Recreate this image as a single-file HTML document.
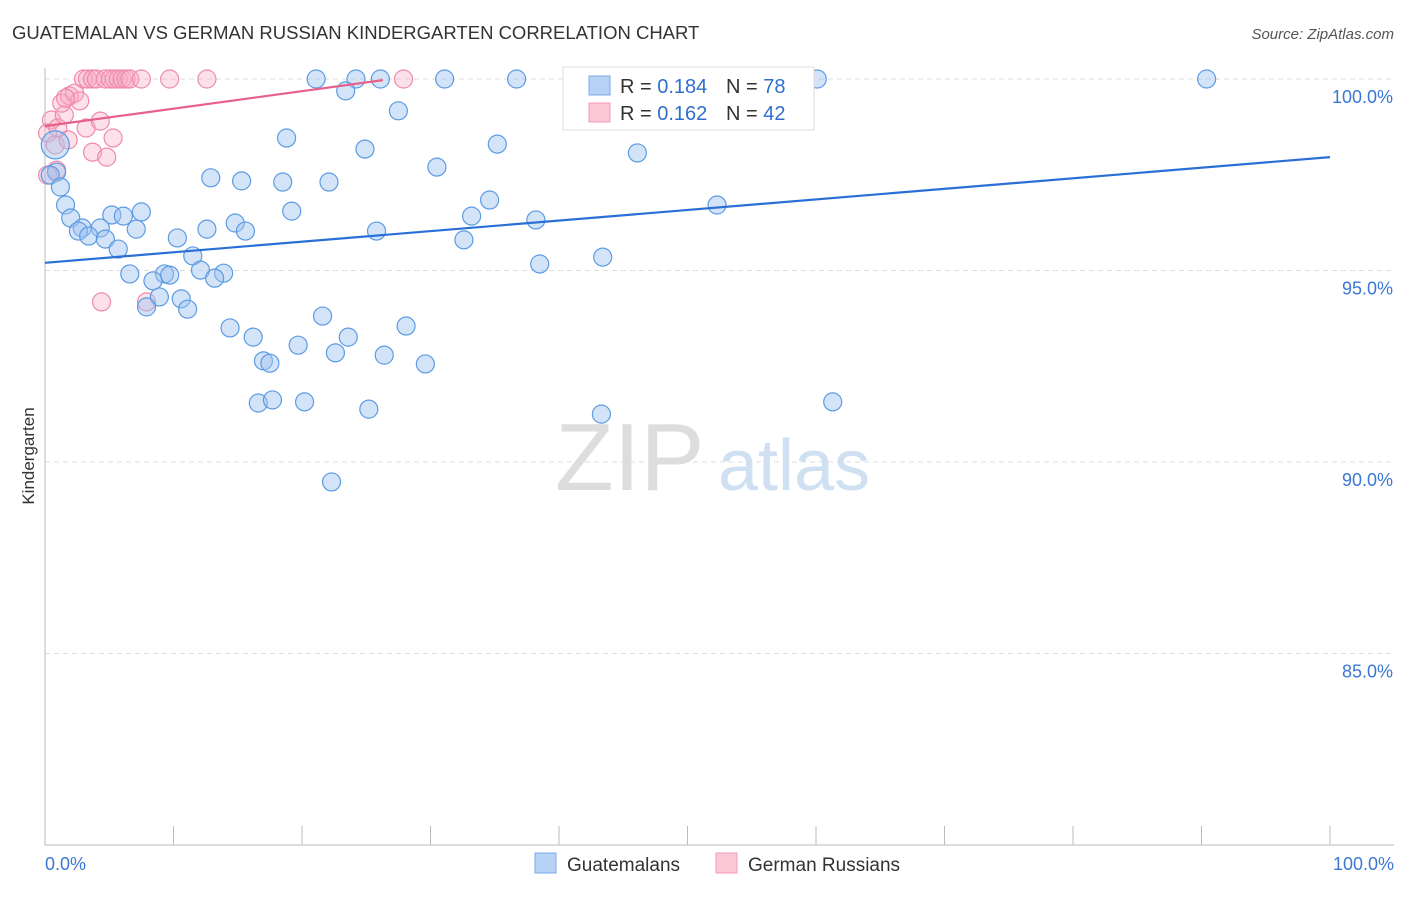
<!DOCTYPE html>
<html><head><meta charset="utf-8"><style>
body{margin:0;background:#fff;font-family:"Liberation Sans",sans-serif;}
svg text{font-family:"Liberation Sans",sans-serif;}
</style></head><body>
<svg id="chart" width="1406" height="892">
<text x="12" y="39" font-size="18.5" fill="#333">GUATEMALAN VS GERMAN RUSSIAN KINDERGARTEN CORRELATION CHART</text>
<text x="1394" y="39" font-size="15" fill="#555" font-style="italic" text-anchor="end">Source: ZipAtlas.com</text>
<g><text x="555" y="490" font-size="96" fill="#ddd" font-family="Liberation Serif">ZIP</text><text x="718" y="490" font-size="72" fill="#cfe0f3">atlas</text></g>
<g id="grid"></g><g id="axes"></g><g id="pink"></g><g id="blue"></g><g id="lines"></g>
<text x="34" y="456" font-size="17" fill="#333" transform="rotate(-90 34 456)" text-anchor="middle">Kindergarten</text>
<g>
<rect x="563" y="67" width="251" height="63" fill="#fff" stroke="#ddd"/>
<rect x="589" y="76" width="21" height="19" fill="#b8d2f5" stroke="#7aaae8"/>
<rect x="589" y="103" width="21" height="19" fill="#fbc8d8" stroke="#f39bb8"/>
<text x="620" y="93" font-size="20" fill="#333">R = <tspan fill="#2e6fce">0.184</tspan><tspan x="726">N = </tspan><tspan fill="#2e6fce">78</tspan></text>
<text x="620" y="120" font-size="20" fill="#333">R = <tspan fill="#2e6fce">0.162</tspan><tspan x="726">N = </tspan><tspan fill="#2e6fce">42</tspan></text>
</g>
<g>
<rect x="535" y="853" width="21" height="20" fill="#b8d2f5" stroke="#7aaae8"/>
<text x="567" y="871" font-size="19" fill="#333">Guatemalans</text>
<rect x="716" y="853" width="21" height="20" fill="#fbc8d8" stroke="#f39bb8"/>
<text x="748" y="871" font-size="19" fill="#333">German Russians</text>
</g>
</svg>
<script>
const yTicks=[100,95,90,85];
const yTickLabels=["100.0%","95.0%","90.0%","85.0%"];
const blueX=[21.1,24.2,26.1,31.1,36.7,58.5,60.1,90.4,23.4,27.5,18.8,35.2,24.9,46.1,30.5,0.9,0.4,1.2,12.9,15.3,18.5,22.1,34.6,1.6,19.2,33.2,52.3,5.2,6.1,7.5,2.0,38.2,14.8,2.9,4.3,2.6,7.1,12.6,15.6,25.8,3.4,4.7,10.3,32.6,5.7,11.5,43.4,38.5,12.1,6.6,9.3,9.7,13.9,13.2,8.4,8.9,10.6,7.9,11.1,14.4,21.6,28.1,16.2,23.6,19.7,22.6,26.4,17.0,17.5,29.6,16.6,17.7,20.2,25.2,43.3,61.3,22.3,0.8];
const blueY=[100,100,100,100,100,100,100,100,99.69,99.17,98.46,98.30,98.17,98.07,97.70,97.57,97.49,97.18,97.42,97.34,97.31,97.31,96.84,96.71,96.55,96.42,96.71,96.45,96.42,96.53,96.37,96.32,96.24,96.11,96.11,96.03,96.08,96.08,96.03,96.03,95.90,95.82,95.85,95.80,95.56,95.38,95.35,95.17,95.01,94.91,94.91,94.88,94.93,94.80,94.73,94.31,94.26,94.05,93.99,93.50,93.81,93.55,93.26,93.26,93.05,92.85,92.79,92.64,92.58,92.56,91.54,91.62,91.57,91.38,91.25,91.57,89.48,98.28];
const pinkX=[3.0,3.3,3.7,4.0,4.7,5.1,5.4,5.7,6.0,6.3,6.6,7.5,9.7,12.6,27.9,0.5,0.2,1.0,0.8,0.9,1.8,1.5,1.3,1.9,2.3,2.7,1.6,3.2,3.7,4.8,4.3,5.3,4.4,7.9,0.2];
const pinkY=[100,100,100,100,100,100,100,100,100,100,100,100,100,100,100,98.93,98.59,98.72,98.28,97.62,98.41,99.06,99.37,99.56,99.63,99.43,99.50,98.72,98.09,97.96,98.90,98.46,94.18,94.18,97.49];
const blueTrend=[95.20,97.96];
const pinkTrend=[98.77,99.97];
const pinkTrendEnd=26.3;
const X=v=>45+v*12.85, Y=v=>79+(100-v)*38.3;
const NS="http://www.w3.org/2000/svg";
function mk(p,t,a){const e=document.createElementNS(NS,t);for(const k in a)e.setAttribute(k,a[k]);document.getElementById(p).appendChild(e);return e;}
yTicks.forEach((t,i)=>{
 const l=mk('grid','line',{x1:45,x2:1394,y1:Y(t),y2:Y(t),stroke:'#ddd','stroke-dasharray':'5,4'});
 
 
 const tx=mk('grid','text',{x:1393,y:Y(t)+24,'font-size':18,fill:'#3a78d4','text-anchor':'end'});tx.textContent=yTickLabels[i];
 
 
});
const ax=mk('axes','path',{d:'M45,68V845H1394',stroke:'#bbb',fill:'none'});


for(let k=1;k<=10;k++){const t=mk('axes','line',{x1:X(k*10),x2:X(k*10),y1:826,y2:845,stroke:'#bbb'});
 
 }
[[0,'0.0%','start',45],[100,'100.0%','end',1394]].forEach(d=>{const t=mk('axes','text',{x:d[3],y:870,'font-size':18,fill:'#3a78d4','text-anchor':d[2]});t.textContent=d[1];
 
 });
pinkX.forEach((x,i)=>{const c=mk('pink','circle',{cx:X(x),cy:Y(pinkY[i]),r:9,fill:'rgba(246,168,196,0.35)',stroke:'#f08aaa','stroke-width':1.2});
 
 });
blueX.forEach((x,i)=>{const c=mk('blue','circle',{cx:X(x),cy:Y(blueY[i]),r:i==blueX.length-1?14:9,fill:'rgba(160,196,240,0.45)',stroke:'#5b9be3','stroke-width':1.2});
 
 });
const bl=mk('lines','line',{x1:X(0),y1:Y(blueTrend[0]),x2:X(100),y2:Y(blueTrend[1]),stroke:'#2a6fd6','stroke-width':2.2});


const pl=mk('lines','line',{x1:X(0),y1:Y(pinkTrend[0]),x2:X(pinkTrendEnd),y2:Y(pinkTrend[1]),stroke:'#e8608a','stroke-width':2.2});


</script>
</body></html>
